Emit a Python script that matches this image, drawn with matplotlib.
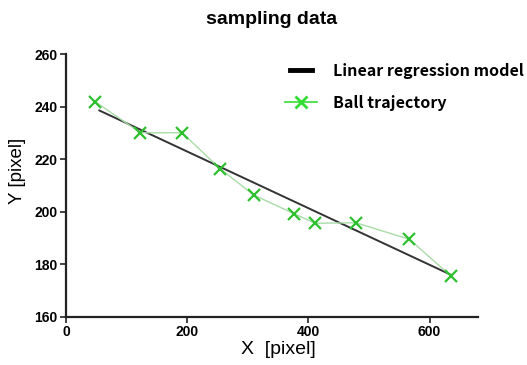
import matplotlib
matplotlib.use("Agg")
import matplotlib.pyplot as plt
from matplotlib.lines import Line2D
from matplotlib.legend_handler import HandlerLine2D

# data
traj_x = [48.6, 122.8, 191.6, 254.8, 309.7, 376.8, 411.4, 478.5, 566.9, 635.2]
traj_y = [241.9, 230.1, 230.1, 216.3, 206.4, 199.2, 195.6, 195.8, 189.5, 175.5]
reg_x = [55.0, 635.0]
reg_y = [238.6, 176.0]
x_ticks = [0, 200, 400, 600]
y_ticks = [160, 180, 200, 220, 240, 260]

plt.rcParams['font.family'] = ['Liberation Sans', 'DejaVu Sans']


class ShortLine(HandlerLine2D):
    def create_artists(self, legend, orig_handle, xdescent, ydescent, width,
                       height, fontsize, trans):
        return super().create_artists(legend, orig_handle, xdescent - 0.15 * width,
                                      ydescent, 0.7 * width, height, fontsize, trans)


fig = plt.figure(figsize=(5.27, 3.65), dpi=100)
ax = fig.add_axes([66/527, 1-316.7/365, (478-66)/527, (316.7-54.3)/365])

ax.plot(reg_x, reg_y, color='#333333', lw=1.4, zorder=2)
ax.plot(traj_x, traj_y, color='#a8dca8', lw=1.0, zorder=3)
ax.plot(traj_x, traj_y, linestyle='none', marker='x', color='#2ec02e',
        markersize=8, mew=1.6, zorder=4)

ax.set_xlim(0, 680)
ax.set_ylim(160, 260)
ax.set_xticks(x_ticks)
ax.set_yticks(y_ticks)
for s in ['top', 'right']:
    ax.spines[s].set_visible(False)
for s in ['left', 'bottom']:
    ax.spines[s].set_linewidth(1.6)
    ax.spines[s].set_color('#222222')
ax.tick_params(axis='both', length=4, width=1.2, colors='#222222', labelsize=10, pad=2)
for lab in ax.get_xticklabels() + ax.get_yticklabels():
    lab.set_fontweight('bold')
    lab.set_color('black')

ax.set_xlabel('X  [pixel]', fontsize=14, va='center')
ax.xaxis.set_label_coords(0.516, -(350 - 316.7) / 262.4)
ax.set_ylabel('Y [pixel]', fontsize=13.5, va='center')
ax.yaxis.set_label_coords(-(66 - 18) / 412, 1 - (171 - 54.3) / 262.4)
ax.set_title('sampling data', fontsize=14, fontweight='bold', pad=22)

black_h = Line2D([], [], color='black', lw=3.5)
green_h = Line2D([], [], color='#33dd33', lw=1.2, marker='x', markersize=9, mew=2)
leg = ax.legend([black_h, green_h], ['Linear regression model', 'Ball trajectory'],
                loc='upper left', bbox_to_anchor=(0.531, 0.968), frameon=False,
                prop={'family': ['Noto Sans CJK KR', 'DejaVu Sans'], 'weight': 'bold', 'size': 11.5},
                handlelength=2.0, handletextpad=1.0, labelspacing=1.0,
                borderaxespad=0, borderpad=0,
                handler_map={black_h: ShortLine()})

fig.savefig('out.png', dpi=100)
